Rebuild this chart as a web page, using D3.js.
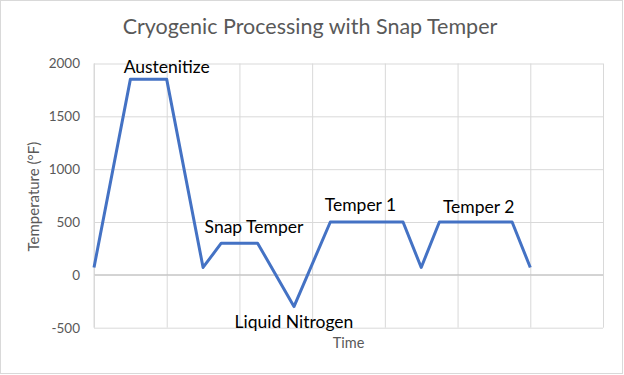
<!DOCTYPE html>
<html>
<head>
<meta charset="utf-8">
<script src="https://cdn.jsdelivr.net/npm/d3@7"></script>
<style>
  body { margin: 0; background: #fff; }
  svg { display: block; font-family: Lato, "Open Sans", sans-serif; }
</style>
</head>
<body>
<svg id="chart"></svg>
<script>
// Data
const timePts = [0, 1, 2, 3, 3.5, 4.5, 5.5, 6.5, 8.5, 9, 9.5, 11.5, 12];
const tempF = [70, 1850, 1850, 70, 300, 300, -300, 500, 500, 70, 500, 500, 70];
const labelText = ["Austenitize", "Snap Temper", "Liquid Nitrogen", "Temper 1", "Temper 2"];
const labelX = [2, 4.4, 5.5, 7.33, 10.58];
const labelY = [1908, 399, -500, 607, 590];
const yTicks = [-500, 0, 500, 1000, 1500, 2000];
const xTicks = [0, 2, 4, 6, 8, 10, 12, 14];

const W = 624, H = 375;
const plot = {left: 94, right: 603, top: 63.5, bottom: 327.7};

const svg = d3.select("#chart")
  .attr("width", W)
  .attr("height", H);

// chart area border
svg.append("rect")
  .attr("x", 0.5).attr("y", 0.5)
  .attr("width", W - 2).attr("height", H - 2)
  .attr("fill", "#fff")
  .attr("stroke", "#d9d9d9");

const x = d3.scaleLinear().domain([0, 14]).range([plot.left, plot.right]);
const y = d3.scaleLinear().domain([-500, 2000]).range([plot.bottom, plot.top]);

// horizontal gridlines + tick labels
const yAxis = svg.append("g")
  .attr("transform", `translate(${plot.left},0)`)
  .call(d3.axisLeft(y).tickValues(yTicks).tickFormat(d => String(d))
    .tickSize(-(plot.right - plot.left)).tickPadding(14));
yAxis.select(".domain").remove();
yAxis.selectAll(".tick line").attr("stroke", "#d9d9d9");
yAxis.selectAll(".tick text")
  .attr("fill", "#595959")
  .style("font-size", "13.5px")
  .style("font-family", "Lato, sans-serif");

// vertical gridlines
const xAxis = svg.append("g")
  .attr("transform", `translate(0,${plot.bottom})`)
  .call(d3.axisBottom(x).tickValues(xTicks).tickSize(-(plot.bottom - plot.top)).tickFormat(""));
xAxis.select(".domain").remove();
xAxis.selectAll(".tick line").attr("stroke", "#d9d9d9");

// axis lines crossing at zero
svg.append("line")
  .attr("x1", plot.left).attr("x2", plot.right)
  .attr("y1", y(0)).attr("y2", y(0))
  .attr("stroke", "#bfbfbf");
svg.append("line")
  .attr("x1", x(0)).attr("x2", x(0))
  .attr("y1", plot.top).attr("y2", plot.bottom)
  .attr("stroke", "#d9d9d9");

// series line
const line = d3.line()
  .x((d, i) => x(timePts[i]))
  .y(d => y(d));

svg.append("path")
  .datum(tempF)
  .attr("d", line)
  .attr("fill", "none")
  .attr("stroke", "#4472c4")
  .attr("stroke-width", 3)
  .attr("stroke-linejoin", "round");

// stage labels
svg.selectAll(".stage")
  .data(labelText)
  .enter().append("text")
  .attr("class", "stage")
  .attr("x", (d, i) => x(labelX[i]))
  .attr("y", (d, i) => y(labelY[i]))
  .attr("text-anchor", "middle")
  .attr("fill", "#000")
  .style("font-size", "17.5px")
  .text(d => d);

// title
svg.append("text")
  .attr("x", 310).attr("y", 34)
  .attr("text-anchor", "middle")
  .attr("fill", "#595959")
  .style("font-size", "21.5px")
  .text("Cryogenic Processing with Snap Temper");

// axis titles
svg.append("text")
  .attr("x", (plot.left + plot.right) / 2).attr("y", 348)
  .attr("text-anchor", "middle")
  .attr("fill", "#595959")
  .style("font-size", "14.5px")
  .text("Time");

svg.append("text")
  .attr("transform", `translate(39,${(plot.top + plot.bottom) / 2 + 1}) rotate(-90)`)
  .attr("text-anchor", "middle")
  .attr("fill", "#595959")
  .style("font-size", "15px")
  .text("Temperature (°F)");
</script>
</body>
</html>
